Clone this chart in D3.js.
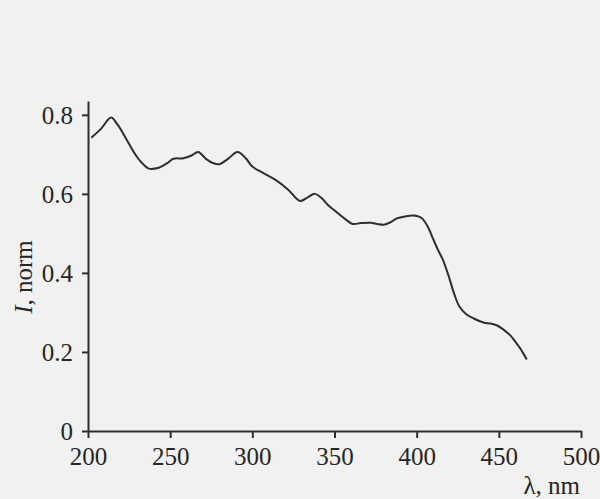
<!DOCTYPE html>
<html>
<head>
<meta charset="utf-8">
<script src="https://cdn.jsdelivr.net/npm/d3@7"></script>
<style>
  html, body { margin: 0; padding: 0; background: #f1f1f1; }
  svg { display: block; }
  text { font-family: "Liberation Serif", "Times New Roman", serif; fill: #262626; }
</style>
</head>
<body>
<div id="chart"></div>
<script>
// spectrum
const wavelength = [202, 208, 214, 218, 223, 228, 232, 237, 243, 248, 252, 258, 263, 267, 272, 276, 280, 285, 291, 296,
  300, 307, 315, 322, 329, 334, 338, 342, 346, 351, 356, 361, 366, 372, 376, 380, 384, 388, 393, 398,
  403, 407, 410, 413, 416, 420, 423, 426, 430, 435, 441, 445, 449, 453, 457, 460, 463, 467];
const intensity = [0.742, 0.765, 0.793, 0.775, 0.741, 0.705, 0.682, 0.664, 0.666, 0.677, 0.689, 0.690, 0.697, 0.706, 0.688, 0.678, 0.675, 0.688, 0.706, 0.690,
  0.669, 0.652, 0.633, 0.610, 0.582, 0.592, 0.600, 0.590, 0.572, 0.555, 0.538, 0.524, 0.526, 0.527, 0.524, 0.522, 0.528, 0.538, 0.543, 0.545,
  0.539, 0.515, 0.486, 0.458, 0.433, 0.385, 0.345, 0.315, 0.296, 0.284, 0.274, 0.272, 0.267, 0.256, 0.242, 0.226, 0.209, 0.181];

const xMajor = [200, 250, 300, 350, 400, 450, 500];
const xMinor = [225, 275, 325, 375, 425, 475];
const yMajor = [0, 0.2, 0.4, 0.6, 0.8];
const yMinor = [0.1, 0.3, 0.5, 0.7];

const width = 600, height = 499;
const ink = '#2e2e2e';

const svg = d3.select('#chart').append('svg')
  .attr('width', width)
  .attr('height', height);

const x = d3.scaleLinear().domain([200, 500]).range([88, 581]);
const y = d3.scaleLinear().domain([0, 0.835]).range([431, 101]);

const data = wavelength.map((w, i) => ({ w: w, v: intensity[i] }));

// x axis
const gx = svg.append('g').attr('transform', `translate(0,${y(0)})`);
gx.call(d3.axisBottom(x).tickValues(xMinor).tickSize(4).tickFormat(''));
gx.call(d3.axisBottom(x).tickValues(xMajor).tickSize(7).tickSizeOuter(0));
gx.selectAll('text').attr('y', 34).attr('dy', null).style('font-size', '25px');

// y axis
const gy = svg.append('g').attr('transform', `translate(${x(200)},0)`);
gy.call(d3.axisLeft(y).tickValues(yMinor).tickSize(3).tickFormat(''));
gy.call(d3.axisLeft(y).tickValues(yMajor).tickSize(6).tickSizeOuter(0)
  .tickFormat(d => d === 0 ? '0' : d.toFixed(1)));
gy.selectAll('text').attr('x', -15).attr('dy', '0.34em').style('font-size', '25px');

svg.selectAll('.domain, .tick line').attr('stroke', ink).attr('stroke-width', 2);

// axis titles
svg.append('text')
  .attr('transform', 'translate(32,277) rotate(-90)')
  .attr('text-anchor', 'middle')
  .style('font-size', '25px')
  .html('<tspan font-style="italic">I</tspan>, norm');

svg.append('text')
  .attr('x', 580)
  .attr('y', 494)
  .attr('text-anchor', 'end')
  .style('font-size', '25px')
  .text('λ, nm');

// spectrum curve
const line = d3.line()
  .x(d => x(d.w))
  .y(d => y(d.v))
  .curve(d3.curveCatmullRom);

svg.append('path')
  .datum(data)
  .attr('d', line)
  .attr('fill', 'none')
  .attr('stroke', ink)
  .attr('stroke-width', 2)
  .attr('stroke-linejoin', 'round');
</script>
</body>
</html>
